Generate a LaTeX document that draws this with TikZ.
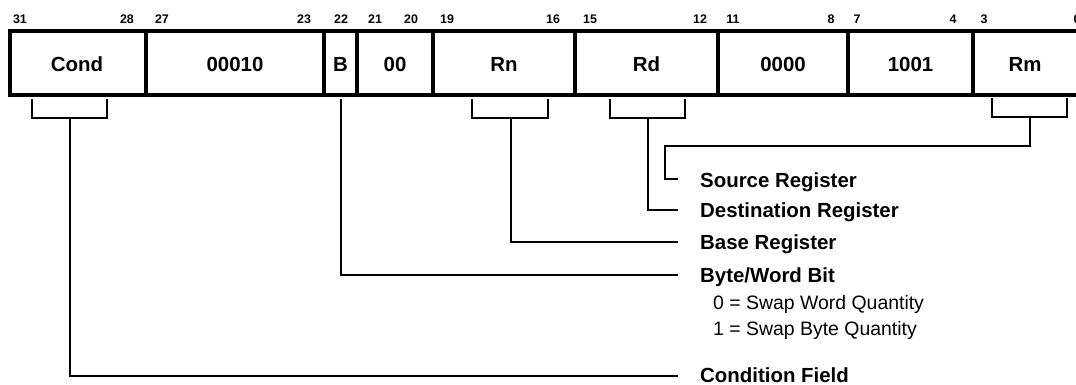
\documentclass[tikz,border=0pt]{standalone}
\usepackage{fontspec}
\setmainfont{Liberation Sans}
\begin{document}
\begin{tikzpicture}[x=1bp,y=-1bp,
  fld/.style={font=\bfseries\fontsize{20.5}{24}\selectfont, inner sep=0pt, anchor=base},
  bitn/.style={font=\bfseries\fontsize{12.5}{14}\selectfont, inner sep=0pt, anchor=base},
  desc/.style={font=\bfseries\fontsize{20.5}{24}\selectfont, inner sep=0pt, anchor=base west},
  note/.style={font=\fontsize{19.5}{23}\selectfont, inner sep=0pt, anchor=base west},
  outerbox/.style={line width=4bp},
  divider/.style={line width=3.5bp},
  wire/.style={line width=2bp, line cap=rect},
]
\useasboundingbox (0,0) rectangle (1076,384);
% register box
\draw[outerbox] (10,31) rectangle (1080,95);
\foreach \x in {146,324,357,433,575,718,848,973} \draw[divider] (\x,31) -- (\x,95);
% field labels
\node[fld] (fcond) at (77,71) {Cond};
\node[fld] (fop) at (235,71) {00010};
\node[fld] (fb) at (340.5,71) {B};
\node[fld] (fzz) at (395,71) {00};
\node[fld] (frn) at (504,71) {Rn};
\node[fld] (frd) at (646.5,71) {Rd};
\node[fld] (fzero) at (783,71) {0000};
\node[fld] (fop2) at (910.5,71) {1001};
\node[fld] (frm) at (1025,71) {Rm};
% bit numbers
\node[bitn] (b31) at (20,23.5) {31};
\node[bitn] (b28) at (127,23.5) {28};
\node[bitn] (b27) at (162,23.5) {27};
\node[bitn] (b23) at (304,23.5) {23};
\node[bitn] (b22) at (341,23.5) {22};
\node[bitn] (b21) at (375,23.5) {21};
\node[bitn] (b20) at (411,23.5) {20};
\node[bitn] (b19) at (447,23.5) {19};
\node[bitn] (b16) at (553,23.5) {16};
\node[bitn] (b15) at (590,23.5) {15};
\node[bitn] (b12) at (700,23.5) {12};
\node[bitn] (b11) at (733,23.5) {11};
\node[bitn] (b8) at (831,23.5) {8};
\node[bitn] (b7) at (857,23.5) {7};
\node[bitn] (b4) at (953,23.5) {4};
\node[bitn] (b3) at (984,23.5) {3};
\node[bitn] (b0) at (1077,23.5) {0};
% descriptions
\node[desc] (lsrc) at (700,187) {Source Register};
\node[desc] (ldst) at (700,217.5) {Destination Register};
\node[desc] (lbase) at (700,249) {Base Register};
\node[desc] (lbw) at (700,282) {Byte/Word Bit};
\node[note] (lbw0) at (713,309) {0 = Swap Word Quantity};
\node[note] (lbw1) at (713,335) {1 = Swap Byte Quantity};
\node[desc] (lcond) at (700,382) {Condition Field};
% bracket coordinates
\coordinate (condS) at (70,118);
\coordinate (bS) at (341,100);
\coordinate (rnS) at (511,118);
\coordinate (rdS) at (648,118);
\coordinate (rmS) at (1030,117);
\coordinate (condE) at (677,376);
\coordinate (bE) at (677,275);
\coordinate (rnE) at (677,242);
\coordinate (rdE) at (677,210);
\coordinate (rmE) at (677,179);
% brackets
\draw[wire] (32,100) -- (32,118) -- (107,118) -- (107,100);
\draw[wire] (472,100) -- (472,118) -- (548,118) -- (548,100);
\draw[wire] (610,100) -- (610,118) -- (685,118) -- (685,100);
\draw[wire] (992,99) -- (992,117) -- (1067,117) -- (1067,99);
% connectors
\draw[wire] (condS) |- (condE);
\draw[wire] (bS) |- (bE);
\draw[wire] (rnS) |- (rnE);
\draw[wire] (rdS) |- (rdE);
\draw[wire] (rmS) -- (1030,146) -| (665,179) -- (rmE);
\end{tikzpicture}
\end{document}
